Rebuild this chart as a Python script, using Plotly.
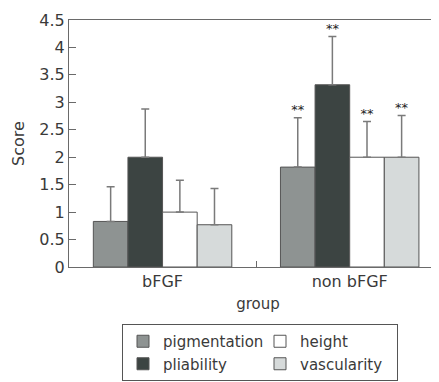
import plotly.graph_objects as go

groups = ["bFGF", "non bFGF"]
series = ["pigmentation", "pliability", "height", "vascularity"]
means = {
    "pigmentation": [0.83, 1.82],
    "pliability": [2.00, 3.32],
    "height": [1.00, 2.00],
    "vascularity": [0.77, 2.00],
}
errors = {
    "pigmentation": [0.63, 0.90],
    "pliability": [0.88, 0.88],
    "height": [0.58, 0.65],
    "vascularity": [0.66, 0.76],
}
stars = {
    "pigmentation": ["", "**"],
    "pliability": ["", "**"],
    "height": ["", "**"],
    "vascularity": ["", "**"],
}
colors = {
    "pigmentation": "#8e9392",
    "pliability": "#3c4442",
    "height": "#ffffff",
    "vascularity": "#d6dada",
}
legend_rank = {"pigmentation": 1, "height": 2, "pliability": 3, "vascularity": 4}
y_ticks = [0, 0.5, 1, 1.5, 2, 2.5, 3, 3.5, 4, 4.5]
y_tick_text = ["0", "0.5", "1", "1.5", "2", "2.5", "3", "3.5", "4", "4.5"]

FONT = "DejaVu Sans"
TXT = "#3a3a3a"
AX = "#6a6a6a"

fig = go.Figure()
for s in series:
    fig.add_trace(go.Bar(
        name=s, x=groups, y=means[s], offsetgroup=s,
        marker=dict(color=colors[s], line=dict(color="#555555", width=1)),
        error_y=dict(type="data", array=errors[s], arrayminus=[0, 0], symmetric=False,
                     color="#7a7a7a", thickness=1.5, width=4),
        legendrank=legend_rank[s],
    ))
for s in series:
    tops = [m + e for m, e in zip(means[s], errors[s])]
    fig.add_trace(go.Scatter(
        x=groups, y=tops, mode="text", text=stars[s], textposition="top center",
        textfont=dict(family=FONT, size=13, color="#222222"),
        offsetgroup=s, showlegend=False, hoverinfo="skip", cliponaxis=False,
    ))

fig.update_layout(
    width=439, height=382,
    margin=dict(l=61, r=0, t=12, b=123, autoexpand=False),
    paper_bgcolor="white", plot_bgcolor="white",
    barmode="group", bargap=0.26, bargroupgap=0,
    scattermode="group", scattergap=0.26,
    font=dict(family=FONT, size=15, color=TXT),
    showlegend=True,
    legend=dict(
        orientation="h", xref="container", yref="container",
        x=114 / 439, y=1 - 316 / 382, xanchor="left", yanchor="top",
        entrywidth=92, bordercolor="#555555", borderwidth=1,
        font=dict(family=FONT, size=15, color=TXT), traceorder="normal",
    ),
)
fig.update_xaxes(
    type="category", range=[-0.5, 1.52], automargin=False,
    showline=True, linecolor=AX, linewidth=1, mirror=True,
    ticks="inside", ticklen=6, tickcolor=AX, tickson="boundaries",
    tickfont=dict(family=FONT, size=16, color=TXT),
    title=dict(text="group", font=dict(family=FONT, size=15, color=TXT), standoff=8),
    showgrid=False,
)
fig.update_yaxes(
    range=[0, 4.5], tickvals=y_ticks, ticktext=y_tick_text, automargin=False,
    showline=True, linecolor=AX, linewidth=1,
    ticks="inside", ticklen=7, tickcolor=AX,
    tickfont=dict(family=FONT, size=16, color=TXT),
    title=dict(text="Score", font=dict(family=FONT, size=16, color=TXT), standoff=10),
    showgrid=False, zeroline=False,
)
fig.write_html("out.html")
